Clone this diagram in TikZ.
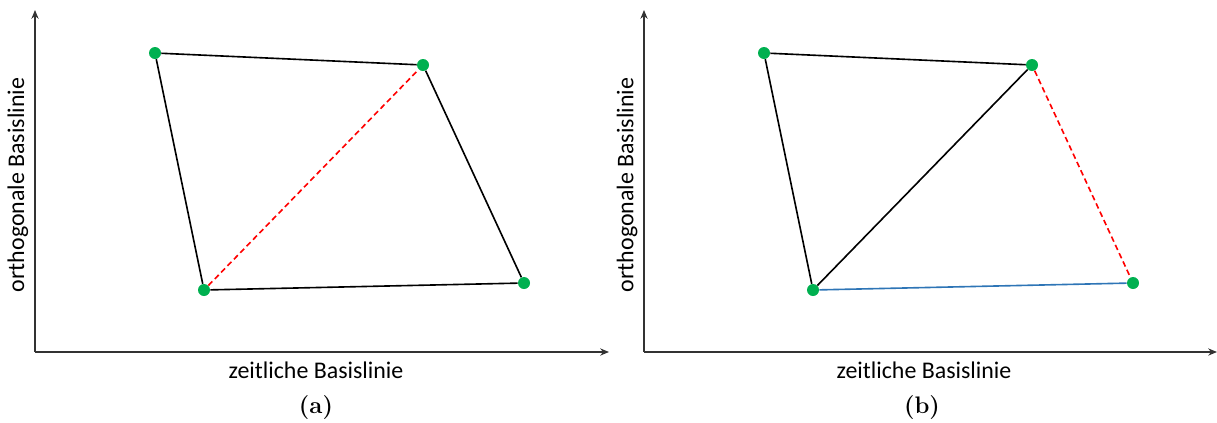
\documentclass[tikz,border=0pt]{standalone}
\usepackage{fontspec}
\newfontfamily\axisfont{Carlito}
\usetikzlibrary{arrows.meta}
\definecolor{ptgreen}{RGB}{0,176,80}
\definecolor{lineblue}{RGB}{46,117,182}
\tikzset{
  pt/.style={circle, fill=ptgreen, inner sep=0pt, minimum size=0.3cm},
  edge/.style={black, line width=1.15pt},
  cut/.style={red, dash pattern=on 4pt off 2.5pt, line width=1.15pt},
  axis/.style={-{Stealth[length=0.22cm,width=0.18cm]}, line width=0.9pt, black!80},
  axislabel/.style={font=\axisfont\fontsize{17}{19}\selectfont},
  subcap/.style={font=\fontsize{17}{19}\selectfont\bfseries},
}
\begin{document}
\begin{tikzpicture}[x=0.025cm, y=-0.025cm]
    \useasboundingbox (0,0) rectangle (1217,422);

    % (a)
    \coordinate (Oa) at (35,352);
    \draw[axis] (Oa) -- (35,10);
    \draw[axis] (Oa) -- (609,352);
    \node[axislabel, rotate=90] (ya) at (18,185) {orthogonale Basislinie};
    \node[axislabel] (xa) at (316,370) {zeitliche Basislinie};
    \node[subcap] (capa) at (316,408) {(a)};

    \node[pt] (A1) at (155,53) {};
    \node[pt] (B1) at (423,65) {};
    \node[pt] (C1) at (204,290) {};
    \node[pt] (D1) at (524,283) {};

    \draw[edge] (A1) -- (B1);
    \draw[edge] (A1) -- (C1);
    \draw[edge] (C1) -- (D1);
    \draw[edge] (D1) -- (B1);
    \draw[cut] (C1) -- (B1);

    % (b)
    \coordinate (Ob) at (644,352);
    \draw[axis] (Ob) -- (644,10);
    \draw[axis] (Ob) -- (1217,352);
    \node[axislabel, rotate=90] (yb) at (627,185) {orthogonale Basislinie};
    \node[axislabel] (xb) at (924,370) {zeitliche Basislinie};
    \node[subcap] (capb) at (922,408) {(b)};

    \node[pt] (A2) at (764,53) {};
    \node[pt] (B2) at (1032,65) {};
    \node[pt] (C2) at (813,290) {};
    \node[pt] (D2) at (1133,283) {};

    \draw[edge] (A2) -- (B2);
    \draw[edge] (A2) -- (C2);
    \draw[edge] (C2) -- (B2);
    \draw[cut] (B2) -- (D2);
    \draw[lineblue, line width=1.15pt] (C2) -- (D2);

\end{tikzpicture}
\end{document}
